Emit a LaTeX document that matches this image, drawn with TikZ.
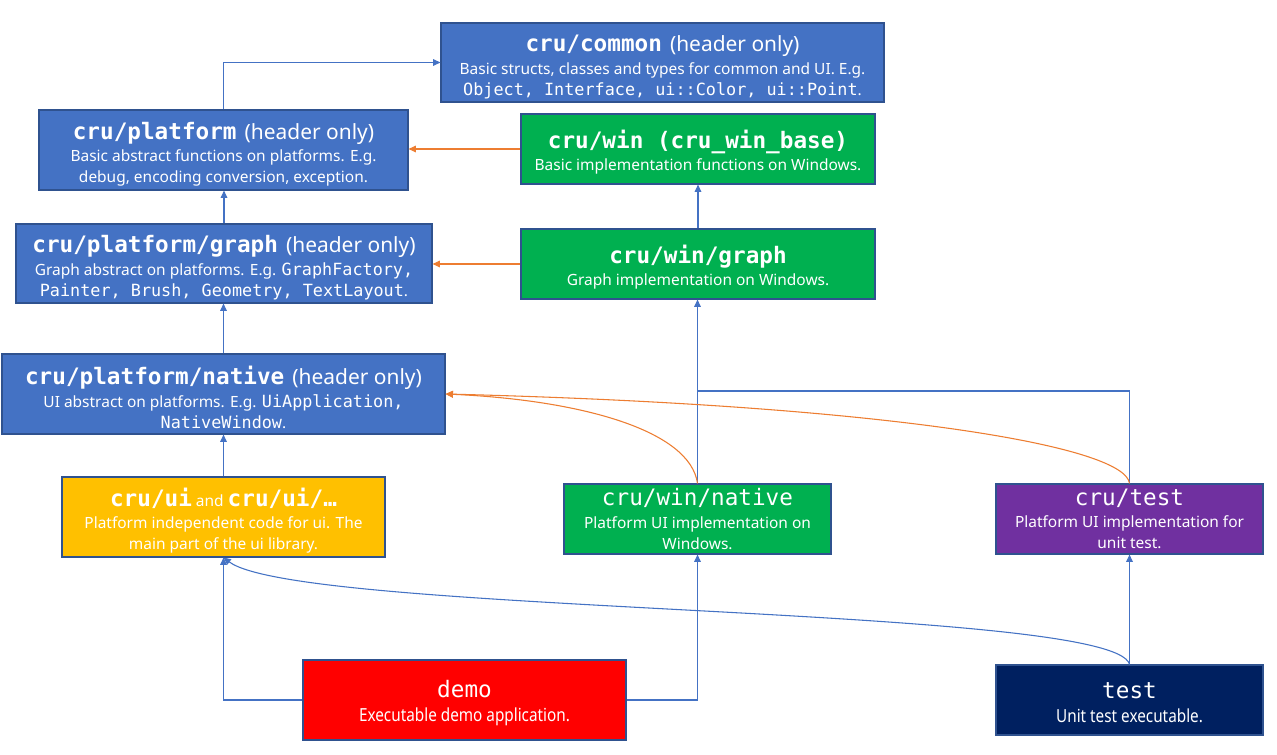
\documentclass[tikz,border=0pt]{standalone}
\usepackage{fontspec}
\setmainfont{Noto Sans}
\setmonofont{DejaVu Sans Mono}
\usetikzlibrary{arrows.meta}
\definecolor{cblue}{HTML}{4472C4}
\definecolor{cbord}{HTML}{2F528F}
\definecolor{cgreen}{HTML}{00B050}
\definecolor{cyellow}{HTML}{FFC000}
\definecolor{cpurple}{HTML}{7030A0}
\definecolor{cred}{HTML}{FF0000}
\definecolor{cnavy}{HTML}{002060}
\definecolor{corange}{HTML}{ED7D31}
\newcommand\ttl[1]{{\ttfamily\bfseries\fontsize{17}{18}\selectfont #1}}
\newcommand\ttr[1]{{\ttfamily\fontsize{17}{18}\selectfont #1}}
\newcommand\tstrut{\rule{0pt}{19pt}}
\newcommand\hdr[1]{{\fontsize{15.7}{16}\selectfont #1}}
\newcommand\cd[1]{{\ttfamily\fontsize{12.6}{14}\selectfont #1}}
\newcommand\nar[1]{\scalebox{0.85}[1]{\fontsize{13.5}{15}\selectfont #1}}
\newcommand\us{\char"5F\relax}
\tikzset{
  box/.style={draw=cbord, line width=0.9pt, text=white, align=center, inner sep=0pt,
    font=\fontsize{11.6}{15.75}\selectfont},
  bl/.style={draw=cblue, line width=0.8pt, -{Triangle[length=5.5pt,width=5pt]}},
  or/.style={draw=corange, line width=0.8pt, -{Triangle[length=5.5pt,width=5pt]}},
  plain/.style={draw=cblue, line width=0.8pt}
}
\begin{document}
\begin{tikzpicture}[x=0.75pt,y=-0.75pt]
\fill[white] (0,0) rectangle (1277,755);
\useasboundingbox (0,0) rectangle (1277,755);

\node[box, fill=cblue, minimum width=332.25pt, minimum height=59.25pt] (common) at (662.5,62.5)
  {\tstrut\ttl{cru/common}\ \ \hdr{(header only)}\\[1pt]
   Basic structs, classes and types for common and UI. E.g.\\
   \cd{Object, Interface, ui::Color, ui::Point}.};
\node[box, fill=cblue, minimum width=276.75pt, minimum height=60pt] (platform) at (223.5,150)
  {\tstrut\ttl{cru/platform}\ \ \hdr{(header only)}\\[1pt]
   Basic abstract functions on platforms. E.g.\\
   debug, encoding conversion, exception.};
\node[box, fill=cgreen, minimum width=265.5pt, minimum height=52.5pt] (win) at (698,149)
  {\tstrut\ttl{cru/win (cru\us win\us base)}\\[1pt]
   Basic implementation functions on Windows.};
\node[box, fill=cblue, minimum width=312pt, minimum height=59.25pt] (pgraph) at (224,263.5)
  {\tstrut\ttl{cru/platform/graph}\ \ \hdr{(header only)}\\[1pt]
   Graph abstract on platforms. E.g. \cd{GraphFactory,}\\
   \cd{Painter, Brush, Geometry, TextLayout}.};
\node[box, fill=cgreen, minimum width=265.5pt, minimum height=52.5pt] (wgraph) at (698,264)
  {\tstrut\ttl{cru/win/graph}\\[1pt]
   Graph implementation on Windows.};
\node[box, fill=cblue, minimum width=332.25pt, minimum height=60pt] (pnative) at (223.5,394)
  {\tstrut\ttl{cru/platform/native}\ \ \hdr{(header only)}\\[1pt]
   UI abstract on platforms. E.g. \cd{UiApplication,}\\
   \cd{NativeWindow}.};
\node[box, fill=cyellow, minimum width=242.25pt, minimum height=60pt] (ui) at (223.5,517)
  {\tstrut\ttl{cru/ui} and \ttl{cru/ui/…}\\[1pt]
   Platform independent code for ui. The\\
   main part of the ui library.};
\node[box, fill=cgreen, minimum width=200.25pt, minimum height=52.5pt] (wnative) at (697.5,519)
  {\ttr{cru/win/native}\\[1pt]
   Platform UI implementation on\\
   Windows.};
\node[box, fill=cpurple, minimum width=200.25pt, minimum height=52.5pt] (crutest) at (1129.5,519)
  {\ttr{cru/test}\\[1pt]
   Platform UI implementation for\\
   unit test.};
\node[box, fill=cred, minimum width=242.25pt, minimum height=60pt] (demo) at (464.5,700)
  {\rule{0pt}{17pt}\ttr{demo}\\[2pt]
   \nar{Executable demo application.}};
\node[box, fill=cnavy, minimum width=200.25pt, minimum height=52.5pt] (test) at (1129.5,700)
  {\rule{0pt}{16pt}\ttr{test}\\[2pt]
   \nar{Unit test executable.}};

\coordinate (join) at (697.5,391);

\draw[bl] (platform.north) |- (common.west);
\draw[or] (win.west) -- (win.west -| platform.east);
\draw[bl] (pgraph.north) -- (pgraph.north |- platform.south);
\draw[bl] (wgraph.north) -- (win.south);
\draw[or] (wgraph.west) -- (wgraph.west -| pgraph.east);
\draw[bl] (pnative.north) -- (pnative.north |- pgraph.south);
\draw[bl] (ui.north) -- (pnative.south);
\draw[bl] (wnative.north) -- (wnative.north |- wgraph.south);
\draw[plain] (crutest.north) |- (join);
\draw[or] (wnative.north) .. controls (690,430) and (580,400) .. (pnative.east);
\draw[or] (crutest.north) .. controls (1125,445) and (880,405) .. (pnative.east);
\draw[bl] (demo.west) -| (ui.south);
\draw[bl] (demo.east) -| (wnative.south);
\draw[bl] (test.north) -- (crutest.south);
\draw[bl] (test.north) .. controls (1115,605) and (300,615) .. (ui.south);
\end{tikzpicture}
\end{document}
